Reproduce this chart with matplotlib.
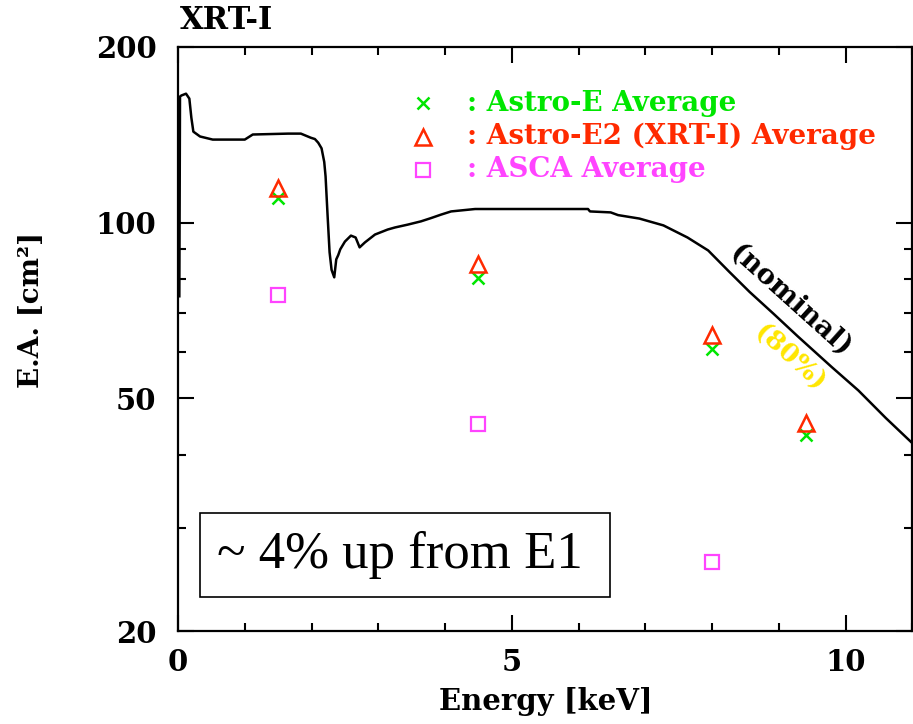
import matplotlib
matplotlib.use("Agg")
import matplotlib.pyplot as plt
from matplotlib.patches import Rectangle
from matplotlib.ticker import FixedLocator, NullFormatter, MultipleLocator

# nominal effective area curve
curve_energy = [0.02, 0.03, 0.05, 0.12, 0.17, 0.20, 0.23, 0.33, 0.52, 1.00, 1.12,
                1.65, 1.84, 1.99, 2.05, 2.10, 2.15, 2.19, 2.21, 2.24, 2.27, 2.30,
                2.34, 2.37, 2.40, 2.43, 2.50, 2.59, 2.66, 2.72, 2.80, 2.95, 3.14,
                3.25, 3.44, 3.64, 3.79, 3.94, 4.09, 4.45, 6.14, 6.17, 6.48, 6.59,
                6.91, 7.27, 7.63, 7.94, 8.25, 8.56, 8.92, 9.28, 9.79, 10.19, 10.60,
                11.0]
curve_ea = [74.8, 164.3, 165.0, 166.2, 163.0, 151.2, 143.1, 140.4, 138.7, 138.7, 141.5,
            142.0, 142.0, 139.7, 139.0, 137.0, 134.0, 127.0, 120.0, 103.0, 89.0, 83.0,
            80.6, 86.5, 88.0, 90.0, 92.8, 95.0, 94.3, 90.7, 92.5, 95.4, 97.3,
            98.1, 99.2, 100.5, 101.8, 103.2, 104.5, 105.5, 105.5, 104.5, 104.1, 103.0,
            101.6, 98.9, 94.3, 89.6, 82.5, 76.1, 69.8, 63.9, 56.6, 51.6, 46.3,
            41.9]

# measured averages
energy_pts = [1.5, 4.5, 8.0, 9.4]
astro_e = [110.0, 80.5, 60.7, 43.3]
astro_e2 = [114.8, 84.8, 64.1, 45.4]
asca_energy = [1.5, 4.5, 8.0]
asca = [75.3, 45.2, 26.2]

legend_labels = [": Astro-E Average", ": Astro-E2 (XRT-I) Average", ": ASCA Average"]

green = "#00e600"
red = "#ff2a00"
magenta = "#ff44ff"
yellow = "#ffe600"
font = "DejaVu Serif"

fig = plt.figure(figsize=(9.13, 7.24), dpi=100)
ax = fig.add_axes([0.19496, 0.12845, 0.80449, 0.80704])

ax.plot(curve_energy, curve_ea, color="black", lw=1.8)
ax.plot(energy_pts, astro_e, ls="none", marker="x", ms=9, mew=1.8, color=green)
ax.plot(energy_pts, astro_e2, ls="none", marker="^", ms=11, mew=1.8, mfc="none", mec=red)
ax.plot(asca_energy, asca, ls="none", marker="s", ms=10, mew=1.6, mfc="none", mec=magenta)

ax.set_yscale("log")
ax.set_xlim(0, 11)
ax.set_ylim(20, 200)
ax.set_xticks([0, 5, 10])
ax.xaxis.set_minor_locator(MultipleLocator(1))
ax.yaxis.set_major_locator(FixedLocator([20, 50, 100, 200]))
ax.yaxis.set_minor_locator(FixedLocator([30, 40, 60, 70, 80, 90]))
ax.yaxis.set_minor_formatter(NullFormatter())
ax.set_yticklabels(["20", "50", "100", "200"])
ax.tick_params(which="both", direction="in", top=True, right=True, width=1.5)
ax.tick_params(which="major", length=11.5, pad=12)
ax.tick_params(axis="y", which="major", pad=15.5)
ax.tick_params(which="minor", length=6)
for lab in ax.get_xticklabels() + ax.get_yticklabels():
    lab.set_fontfamily(font)
    lab.set_fontweight("bold")
    lab.set_fontsize(21)
for sp in ax.spines.values():
    sp.set_linewidth(1.6)

ax.set_xlabel("Energy [keV]", fontfamily=font, fontweight="bold", fontsize=21)
ax.xaxis.set_label_coords(0.501, -0.1215)
ax.xaxis.label.set_va("center")
ax.set_ylabel("E.A. [cm²]", fontfamily=font, fontweight="bold", fontsize=20)
ax.yaxis.set_label_coords(-0.199, 0.549)
ax.yaxis.label.set_va("center")

ax.text(0.003, 1.0457, "XRT-I", transform=ax.transAxes, ha="left", va="center",
        fontfamily=font, fontweight="bold", fontsize=22)

# legend drawn by hand
leg_y = [0.903, 0.846, 0.789]
leg_style = [dict(marker="x", ms=9, mew=1.8, color=green),
             dict(marker="^", ms=11, mew=1.8, mfc="none", mec=red),
             dict(marker="s", ms=10, mew=1.6, mfc="none", mec=magenta)]
leg_colors = [green, red, magenta]
for y, st, lab, c in zip(leg_y, leg_style, legend_labels, leg_colors):
    ax.plot([0.334], [y], transform=ax.transAxes, ls="none", **st)
    ax.text(0.393, y, lab, transform=ax.transAxes, ha="left", va="center",
            color=c, fontfamily=font, fontweight="bold", fontsize=20)

ax.text(9.17, 73.5, "(nominal)", rotation=-42, ha="center", va="center",
        fontfamily=font, fontweight="bold", fontsize=20, rotation_mode="anchor")
ax.text(9.15, 58.5, "(80%)", rotation=-42, ha="center", va="center", color=yellow,
        fontfamily=font, fontweight="bold", fontsize=19, rotation_mode="anchor")

ax.add_patch(Rectangle((0.030, 0.058), 0.558, 0.144, transform=ax.transAxes,
                       fill=False, ec="black", lw=1.2, zorder=5))
ax.text(0.302, 0.130, "~ 4% up from E1", transform=ax.transAxes, ha="center", va="center",
        fontfamily="Liberation Serif", fontsize=38)

fig.savefig("out.png", dpi=100)
